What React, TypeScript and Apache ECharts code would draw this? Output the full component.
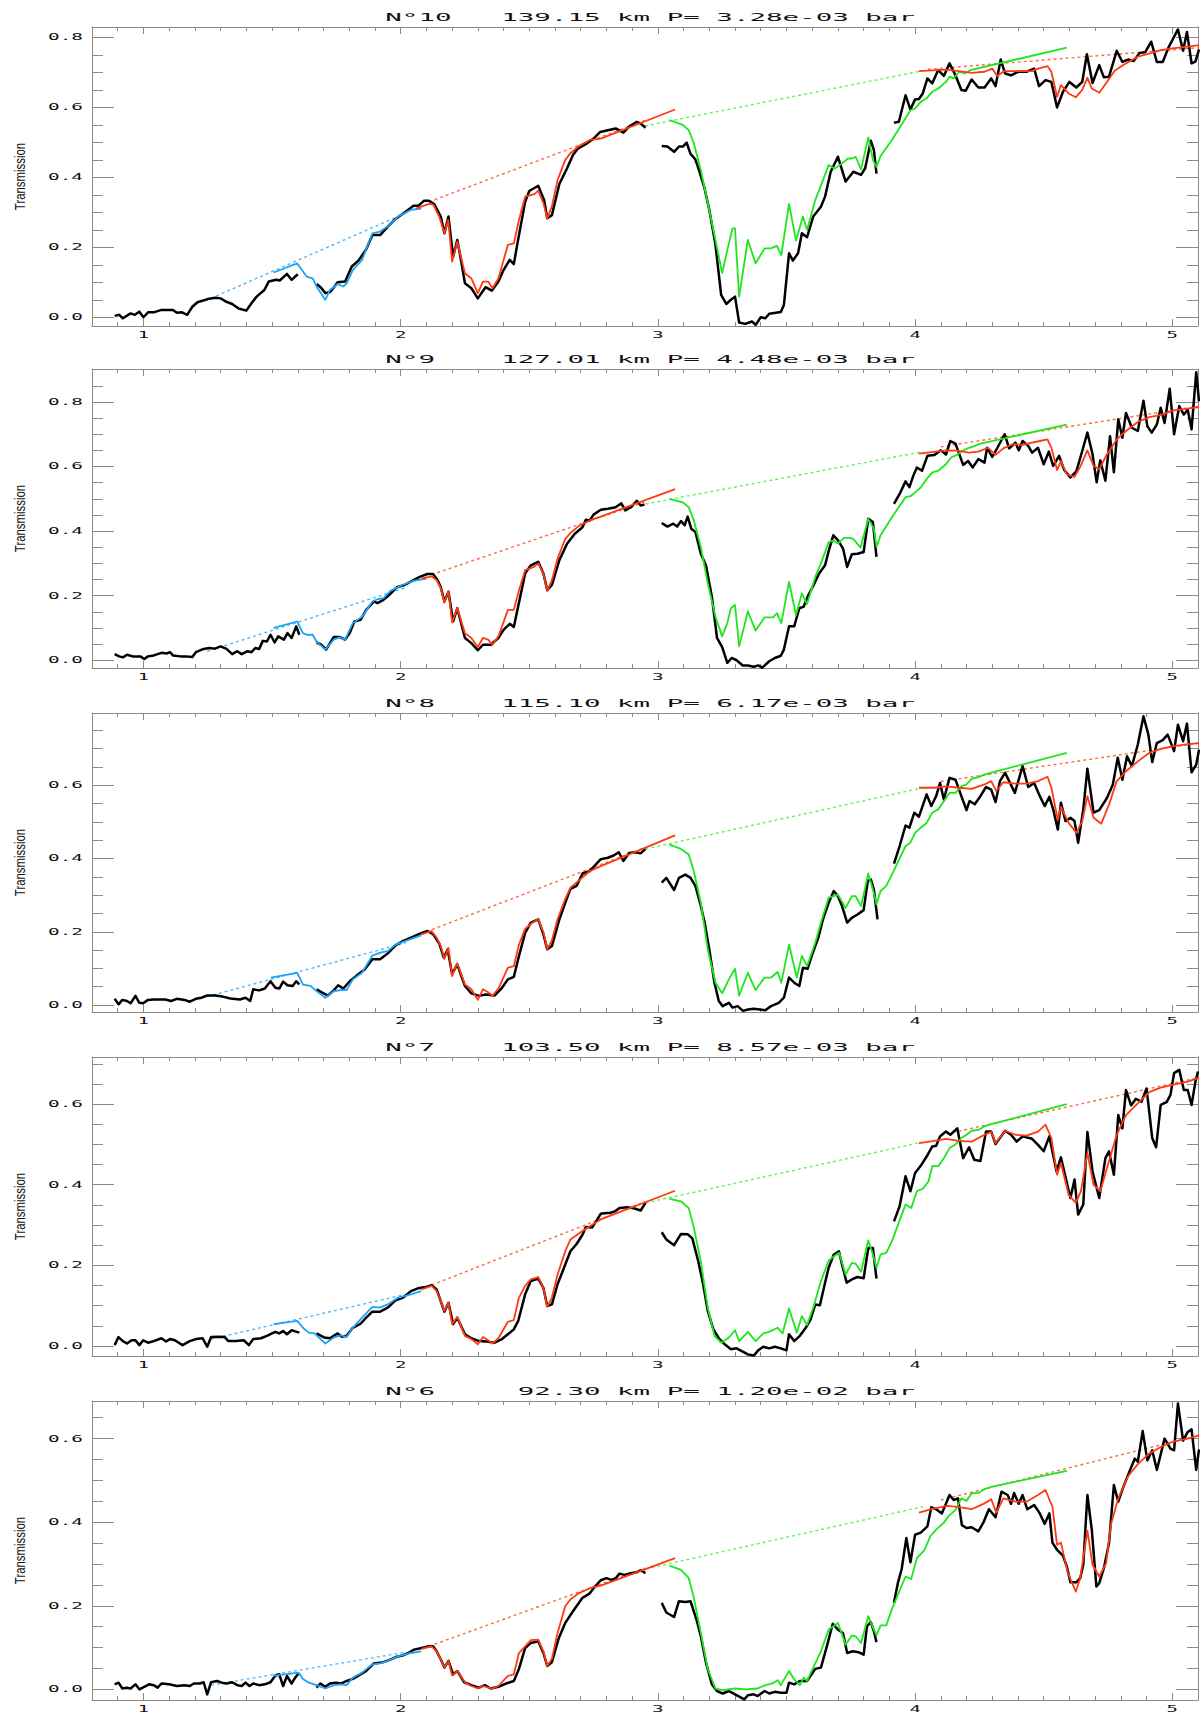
import React, { useEffect, useRef } from "react";
import * as echarts from "echarts";

type Pt = [number, number];

// ---------------- Panel N°10 ----------------
const p10BlackA: Pt[] = [[0.888,0.004],[0.906,0.007],[0.92,-0.003],[0.95,0.011],[0.966,0.007],[0.984,0.016],[1.0,0.0],[1.018,0.014],[1.04,0.014],[1.07,0.021],[1.115,0.021],[1.13,0.013],[1.15,0.014],[1.17,0.007],[1.19,0.03],[1.21,0.043],[1.25,0.052],[1.28,0.056],[1.30,0.054],[1.32,0.045],[1.345,0.038],[1.37,0.025],[1.40,0.019],[1.42,0.04],[1.44,0.059],[1.47,0.078],[1.487,0.102],[1.516,0.107],[1.53,0.105],[1.558,0.124],[1.576,0.107],[1.60,0.123]];
const p10BlackB: Pt[] = [[1.673,0.095],[1.69,0.085],[1.707,0.069],[1.725,0.072],[1.74,0.085],[1.755,0.1],[1.784,0.102],[1.81,0.145],[1.836,0.162],[1.866,0.194],[1.89,0.235],[1.92,0.235],[1.95,0.259],[1.98,0.281],[2.01,0.297],[2.05,0.319],[2.07,0.319],[2.09,0.333],[2.11,0.333],[2.13,0.324],[2.156,0.288],[2.17,0.24],[2.186,0.288],[2.204,0.173],[2.22,0.221],[2.23,0.183],[2.25,0.097],[2.275,0.083],[2.30,0.054],[2.33,0.086],[2.354,0.076],[2.38,0.102],[2.40,0.135],[2.424,0.164],[2.44,0.152],[2.454,0.211],[2.484,0.33],[2.50,0.361],[2.535,0.376],[2.558,0.335],[2.57,0.283],[2.588,0.292],[2.617,0.381],[2.647,0.426],[2.67,0.464],[2.69,0.483],[2.72,0.495],[2.75,0.511],[2.776,0.53],[2.806,0.535],[2.836,0.54],[2.866,0.528],[2.888,0.545],[2.918,0.559],[2.933,0.554],[2.952,0.542]];
const p10BlackC: Pt[] = [[3.015,0.49],[3.037,0.488],[3.063,0.473],[3.082,0.488],[3.097,0.488],[3.112,0.499],[3.127,0.467],[3.146,0.451],[3.16,0.421],[3.18,0.373],[3.20,0.307],[3.224,0.207],[3.246,0.064],[3.266,0.038],[3.284,0.05],[3.30,0.059],[3.316,-0.015],[3.34,-0.019],[3.366,-0.012],[3.38,-0.022],[3.40,0.0],[3.418,-0.003],[3.433,0.01],[3.478,0.015],[3.49,0.035],[3.51,0.183],[3.525,0.162],[3.545,0.183],[3.56,0.24],[3.58,0.229],[3.604,0.288],[3.634,0.316],[3.65,0.345],[3.672,0.416],[3.70,0.459],[3.73,0.388],[3.76,0.416],[3.79,0.407],[3.806,0.426],[3.828,0.505],[3.84,0.478],[3.85,0.411]];
const p10BlackD: Pt[] = [[3.918,0.556],[3.937,0.559],[3.963,0.635],[3.982,0.594],[4.0,0.623],[4.015,0.624],[4.03,0.64],[4.048,0.683],[4.067,0.669],[4.09,0.707],[4.112,0.69],[4.134,0.726],[4.157,0.692],[4.18,0.65],[4.197,0.648],[4.22,0.68],[4.246,0.657],[4.27,0.657],[4.296,0.683],[4.313,0.661],[4.333,0.737],[4.35,0.697],[4.373,0.692],[4.40,0.702],[4.433,0.702],[4.463,0.711],[4.482,0.661],[4.507,0.678],[4.53,0.673],[4.552,0.6],[4.575,0.645],[4.6,0.673],[4.627,0.657],[4.65,0.673],[4.668,0.752],[4.69,0.67],[4.716,0.721],[4.734,0.686],[4.754,0.688],[4.784,0.762],[4.806,0.73],[4.828,0.737],[4.85,0.733],[4.873,0.756],[4.895,0.758],[4.918,0.788],[4.94,0.73],[4.963,0.73],[4.985,0.771],[5.022,0.823],[5.042,0.762],[5.057,0.816],[5.075,0.726],[5.09,0.731],[5.104,0.766]];
const p10Blue: Pt[] = [[1.506,0.128],[1.598,0.154],[1.635,0.116],[1.658,0.111],[1.673,0.088],[1.707,0.05],[1.725,0.078],[1.755,0.095],[1.777,0.088],[1.79,0.097],[1.814,0.135],[1.85,0.164],[1.89,0.24],[1.92,0.245],[1.95,0.26],[1.99,0.288],[2.04,0.307],[2.08,0.311]];
const p10BlueCont: Pt[] = [[1.24,0.047],[2.02,0.298]];
const p10Red1: Pt[] = [[2.06,0.311],[2.11,0.324],[2.127,0.322],[2.15,0.288],[2.17,0.24],[2.185,0.278],[2.2,0.159],[2.22,0.216],[2.25,0.126],[2.275,0.111],[2.30,0.069],[2.32,0.102],[2.34,0.102],[2.357,0.083],[2.38,0.111],[2.417,0.207],[2.44,0.211],[2.46,0.278],[2.484,0.345],[2.52,0.352],[2.535,0.362],[2.555,0.326],[2.57,0.283],[2.588,0.317],[2.61,0.392],[2.64,0.45],[2.66,0.469],[2.69,0.488],[2.735,0.507],[2.778,0.511],[3.067,0.594]];
const p10Red1Cont: Pt[] = [[2.11,0.33],[2.95,0.563]];
const p10Green: Pt[] = [[3.045,0.564],[3.097,0.55],[3.12,0.535],[3.14,0.497],[3.167,0.421],[3.194,0.326],[3.224,0.221],[3.25,0.126],[3.27,0.192],[3.29,0.254],[3.30,0.254],[3.316,0.059],[3.35,0.221],[3.38,0.154],[3.415,0.197],[3.44,0.197],[3.463,0.204],[3.48,0.178],[3.51,0.324],[3.537,0.219],[3.564,0.288],[3.58,0.25],[3.612,0.335],[3.642,0.392],[3.664,0.435],[3.687,0.425],[3.716,0.44],[3.739,0.454],[3.754,0.454],[3.769,0.459],[3.79,0.423],[3.818,0.514],[3.836,0.45],[3.85,0.43],[3.866,0.461],[3.91,0.507],[3.963,0.569],[3.982,0.592],[4.0,0.597],[4.022,0.616],[4.045,0.626],[4.067,0.645],[4.09,0.654],[4.12,0.673],[4.134,0.688],[4.15,0.683],[4.172,0.702],[4.194,0.697],[4.216,0.707],[4.24,0.711],[4.59,0.771]];
const p10GreenCont: Pt[] = [[2.95,0.547],[4.03,0.705]];
const p10Red2: Pt[] = [[4.015,0.704],[4.12,0.708],[4.17,0.704],[4.22,0.699],[4.27,0.702],[4.30,0.711],[4.32,0.69],[4.346,0.704],[4.39,0.704],[4.455,0.704],[4.478,0.711],[4.515,0.718],[4.53,0.702],[4.552,0.63],[4.567,0.664],[4.597,0.64],[4.625,0.629],[4.65,0.65],[4.67,0.685],[4.687,0.654],[4.716,0.642],[4.746,0.673],[4.776,0.705],[4.82,0.726],[4.866,0.745],[4.91,0.754],[4.955,0.764],[5.0,0.769],[5.06,0.774],[5.104,0.778]];
const p10Red2Cont: Pt[] = [[4.05,0.709],[5.104,0.771]];

// ---------------- Panel N°9 ----------------
const p9BlackA: Pt[] = [[0.888,0.019],[0.906,0.012],[0.92,0.009],[0.936,0.017],[0.958,0.012],[0.988,0.012],[1.003,0.004],[1.018,0.012],[1.04,0.015],[1.07,0.023],[1.092,0.021],[1.103,0.025],[1.115,0.015],[1.144,0.012],[1.167,0.012],[1.19,0.01],[1.204,0.025],[1.234,0.035],[1.256,0.038],[1.278,0.036],[1.30,0.043],[1.323,0.035],[1.345,0.019],[1.365,0.028],[1.382,0.019],[1.405,0.028],[1.42,0.025],[1.435,0.038],[1.45,0.035],[1.464,0.06],[1.48,0.058],[1.494,0.079],[1.51,0.055],[1.524,0.074],[1.546,0.064],[1.56,0.084],[1.576,0.069],[1.594,0.105],[1.606,0.079]];
const p9BlackB: Pt[] = [[1.673,0.055],[1.692,0.048],[1.71,0.033],[1.74,0.072],[1.762,0.072],[1.784,0.064],[1.802,0.084],[1.82,0.12],[1.844,0.125],[1.866,0.156],[1.896,0.182],[1.91,0.177],[1.933,0.187],[1.955,0.202],[1.985,0.226],[2.015,0.233],[2.045,0.246],[2.074,0.258],[2.104,0.267],[2.126,0.267],[2.144,0.248],[2.156,0.226],[2.17,0.182],[2.186,0.212],[2.204,0.12],[2.22,0.161],[2.25,0.069],[2.275,0.053],[2.30,0.031],[2.32,0.048],[2.35,0.048],[2.38,0.069],[2.40,0.094],[2.424,0.113],[2.44,0.103],[2.454,0.156],[2.484,0.269],[2.506,0.294],[2.535,0.305],[2.555,0.269],[2.57,0.217],[2.588,0.233],[2.617,0.31],[2.647,0.361],[2.677,0.392],[2.707,0.412],[2.72,0.435],[2.735,0.433],[2.75,0.451],[2.778,0.466],[2.806,0.469],[2.836,0.474],[2.858,0.486],[2.873,0.464],[2.896,0.474],[2.918,0.494],[2.933,0.479],[2.948,0.482]];
const p9BlackC: Pt[] = [[3.015,0.425],[3.037,0.414],[3.06,0.423],[3.075,0.414],[3.09,0.431],[3.104,0.418],[3.116,0.445],[3.13,0.407],[3.146,0.397],[3.167,0.33],[3.187,0.294],[3.21,0.197],[3.23,0.069],[3.25,0.041],[3.27,-0.008],[3.287,0.007],[3.306,0.0],[3.33,-0.016],[3.35,-0.016],[3.373,-0.02],[3.39,-0.016],[3.406,-0.023],[3.433,-0.003],[3.455,0.007],[3.478,0.014],[3.49,0.033],[3.51,0.105],[3.53,0.105],[3.55,0.161],[3.567,0.166],[3.585,0.202],[3.604,0.23],[3.627,0.269],[3.65,0.294],[3.664,0.338],[3.682,0.387],[3.70,0.372],[3.72,0.346],[3.736,0.289],[3.754,0.328],[3.776,0.33],[3.80,0.335],[3.818,0.438],[3.836,0.428],[3.85,0.32]];
const p9BlackD: Pt[] = [[3.918,0.484],[3.94,0.515],[3.963,0.554],[3.978,0.536],[3.993,0.571],[4.007,0.597],[4.027,0.587],[4.048,0.633],[4.075,0.636],[4.10,0.65],[4.12,0.637],[4.137,0.679],[4.157,0.671],[4.187,0.605],[4.206,0.617],[4.224,0.597],[4.246,0.623],[4.27,0.612],[4.28,0.658],[4.30,0.63],[4.32,0.658],[4.348,0.70],[4.366,0.656],[4.39,0.674],[4.403,0.65],[4.418,0.679],[4.44,0.664],[4.455,0.643],[4.478,0.658],[4.50,0.607],[4.52,0.646],[4.537,0.602],[4.56,0.633],[4.58,0.589],[4.604,0.566],[4.627,0.585],[4.65,0.648],[4.67,0.705],[4.69,0.638],[4.706,0.551],[4.72,0.619],[4.74,0.556],[4.758,0.694],[4.773,0.582],[4.79,0.746],[4.806,0.689],[4.82,0.766],[4.843,0.72],[4.866,0.71],[4.888,0.804],[4.903,0.725],[4.92,0.705],[4.94,0.73],[4.955,0.782],[4.97,0.735],[4.99,0.841],[5.007,0.70],[5.027,0.787],[5.045,0.761],[5.06,0.776],[5.075,0.715],[5.093,0.892],[5.104,0.802]];
const p9Blue: Pt[] = [[1.506,0.1],[1.598,0.12],[1.62,0.084],[1.635,0.079],[1.658,0.079],[1.673,0.058],[1.707,0.033],[1.74,0.064],[1.762,0.071],[1.784,0.064],[1.814,0.115],[1.85,0.135],[1.89,0.182],[1.91,0.189],[1.933,0.192],[1.96,0.215],[2.007,0.233],[2.05,0.246],[2.1,0.253]];
const p9BlueCont: Pt[] = [[1.248,0.028],[2.02,0.225]];
const p9Red1: Pt[] = [[2.08,0.253],[2.12,0.26],[2.14,0.248],[2.156,0.223],[2.17,0.178],[2.186,0.215],[2.2,0.117],[2.22,0.161],[2.25,0.084],[2.275,0.069],[2.30,0.041],[2.32,0.069],[2.34,0.064],[2.357,0.048],[2.38,0.074],[2.417,0.156],[2.44,0.156],[2.46,0.217],[2.484,0.279],[2.52,0.29],[2.535,0.30],[2.555,0.269],[2.57,0.215],[2.588,0.248],[2.61,0.315],[2.64,0.376],[2.66,0.394],[2.69,0.414],[2.735,0.433],[2.778,0.445],[3.067,0.53]];
const p9Red1Cont: Pt[] = [[2.12,0.265],[2.95,0.49]];
const p9Green: Pt[] = [[3.045,0.50],[3.097,0.489],[3.12,0.474],[3.14,0.433],[3.167,0.351],[3.194,0.238],[3.224,0.135],[3.25,0.074],[3.27,0.115],[3.284,0.161],[3.30,0.171],[3.316,0.043],[3.35,0.151],[3.38,0.092],[3.415,0.133],[3.448,0.133],[3.463,0.146],[3.48,0.115],[3.51,0.243],[3.537,0.14],[3.56,0.207],[3.58,0.174],[3.612,0.258],[3.634,0.30],[3.664,0.366],[3.684,0.371],[3.70,0.361],[3.724,0.379],[3.746,0.379],[3.76,0.376],[3.788,0.349],[3.818,0.438],[3.84,0.407],[3.85,0.351],[3.866,0.387],[3.91,0.443],[3.963,0.505],[3.982,0.508],[4.0,0.52],[4.022,0.535],[4.045,0.561],[4.067,0.582],[4.09,0.587],[4.12,0.607],[4.14,0.628],[4.164,0.636],[4.187,0.65],[4.21,0.658],[4.23,0.663],[4.254,0.671],[4.59,0.73]];
const p9GreenCont: Pt[] = [[2.952,0.484],[4.03,0.646]];
const p9Red2: Pt[] = [[4.015,0.64],[4.12,0.65],[4.164,0.649],[4.21,0.643],[4.246,0.646],[4.284,0.658],[4.313,0.636],[4.343,0.656],[4.38,0.669],[4.418,0.667],[4.455,0.674],[4.485,0.679],[4.515,0.684],[4.53,0.658],[4.552,0.589],[4.567,0.617],[4.59,0.576],[4.62,0.568],[4.642,0.599],[4.67,0.65],[4.694,0.602],[4.716,0.592],[4.746,0.638],[4.784,0.684],[4.82,0.71],[4.866,0.738],[4.91,0.753],[4.955,0.759],[5.0,0.773],[5.06,0.779],[5.104,0.784]];
const p9Red2Cont: Pt[] = [[4.1,0.661],[5.104,0.787]];

// ---------------- Panel N°8 ----------------
const p8BlackA: Pt[] = [[0.888,0.017],[0.903,0.002],[0.918,0.014],[0.936,0.011],[0.95,0.005],[0.969,0.025],[0.984,0.006],[0.999,0.005],[1.018,0.014],[1.04,0.015],[1.085,0.015],[1.107,0.011],[1.13,0.017],[1.16,0.014],[1.18,0.009],[1.204,0.017],[1.226,0.02],[1.248,0.026],[1.278,0.026],[1.308,0.023],[1.338,0.018],[1.375,0.015],[1.397,0.02],[1.415,0.011],[1.427,0.043],[1.45,0.04],[1.472,0.045],[1.494,0.065],[1.513,0.047],[1.528,0.045],[1.543,0.064],[1.56,0.054],[1.58,0.052],[1.594,0.065],[1.606,0.056]];
const p8BlackB: Pt[] = [[1.673,0.043],[1.695,0.034],[1.717,0.026],[1.74,0.04],[1.757,0.054],[1.777,0.045],[1.802,0.065],[1.83,0.081],[1.86,0.097],[1.89,0.125],[1.92,0.125],[1.95,0.141],[1.98,0.163],[2.01,0.175],[2.04,0.184],[2.075,0.195],[2.104,0.202],[2.127,0.193],[2.15,0.168],[2.168,0.129],[2.183,0.152],[2.20,0.084],[2.22,0.111],[2.25,0.052],[2.275,0.032],[2.305,0.025],[2.33,0.029],[2.365,0.026],[2.394,0.047],[2.417,0.07],[2.44,0.077],[2.46,0.134],[2.484,0.197],[2.506,0.225],[2.535,0.234],[2.555,0.193],[2.57,0.152],[2.588,0.161],[2.617,0.234],[2.64,0.279],[2.66,0.317],[2.684,0.325],[2.707,0.359],[2.734,0.365],[2.778,0.398],[2.806,0.402],[2.828,0.408],[2.848,0.417],[2.866,0.393],[2.888,0.415],[2.91,0.417],[2.933,0.414],[2.952,0.426]];
const p8BlackC: Pt[] = [[3.015,0.334],[3.033,0.347],[3.063,0.314],[3.082,0.347],[3.107,0.356],[3.127,0.347],[3.146,0.325],[3.164,0.279],[3.182,0.225],[3.20,0.152],[3.22,0.061],[3.237,0.011],[3.252,-0.003],[3.276,0.006],[3.29,-0.007],[3.31,-0.003],[3.331,-0.016],[3.35,-0.012],[3.373,-0.01],[3.396,-0.012],[3.418,-0.014],[3.44,-0.003],[3.47,0.006],[3.49,0.02],[3.51,0.075],[3.53,0.061],[3.55,0.052],[3.564,0.102],[3.582,0.099],[3.60,0.138],[3.624,0.184],[3.642,0.234],[3.664,0.279],[3.684,0.311],[3.70,0.297],[3.716,0.27],[3.736,0.225],[3.754,0.238],[3.776,0.247],[3.80,0.259],[3.816,0.338],[3.828,0.343],[3.84,0.315],[3.854,0.234]];
const p8BlackD: Pt[] = [[3.918,0.386],[3.94,0.434],[3.963,0.49],[3.978,0.484],[3.997,0.525],[4.015,0.514],[4.045,0.575],[4.063,0.543],[4.082,0.57],[4.097,0.606],[4.112,0.561],[4.134,0.62],[4.157,0.615],[4.18,0.57],[4.20,0.532],[4.212,0.557],[4.232,0.548],[4.254,0.57],[4.276,0.595],[4.296,0.588],[4.313,0.554],[4.33,0.611],[4.35,0.634],[4.37,0.605],[4.388,0.579],[4.418,0.652],[4.44,0.595],[4.463,0.606],[4.485,0.57],[4.504,0.543],[4.522,0.568],[4.537,0.534],[4.555,0.479],[4.567,0.552],[4.585,0.502],[4.604,0.511],[4.62,0.502],[4.634,0.443],[4.654,0.534],[4.67,0.645],[4.694,0.525],[4.716,0.532],[4.746,0.565],[4.769,0.602],[4.788,0.675],[4.806,0.615],[4.824,0.679],[4.843,0.652],[4.866,0.711],[4.888,0.788],[4.907,0.738],[4.922,0.663],[4.94,0.715],[4.963,0.723],[4.982,0.738],[5.007,0.693],[5.022,0.765],[5.042,0.72],[5.057,0.768],[5.075,0.635],[5.093,0.656],[5.104,0.697]];
const p8Blue: Pt[] = [[1.495,0.075],[1.598,0.088],[1.62,0.056],[1.65,0.052],[1.673,0.038],[1.707,0.02],[1.74,0.038],[1.77,0.041],[1.79,0.041],[1.814,0.07],[1.85,0.088],[1.89,0.135],[1.92,0.143],[1.95,0.147],[1.98,0.165],[2.02,0.175],[2.08,0.19]];
const p8BlueCont: Pt[] = [[1.248,0.023],[2.02,0.17]];
const p8Red1: Pt[] = [[2.08,0.193],[2.12,0.202],[2.14,0.184],[2.156,0.161],[2.17,0.126],[2.186,0.156],[2.2,0.079],[2.22,0.114],[2.25,0.056],[2.275,0.043],[2.30,0.014],[2.32,0.043],[2.34,0.035],[2.357,0.025],[2.38,0.045],[2.417,0.102],[2.44,0.106],[2.46,0.165],[2.484,0.208],[2.514,0.226],[2.535,0.234],[2.555,0.199],[2.57,0.152],[2.588,0.177],[2.61,0.234],[2.64,0.29],[2.66,0.32],[2.69,0.338],[2.735,0.365],[2.778,0.379],[3.067,0.463]];
const p8Red1Cont: Pt[] = [[2.10,0.20],[2.95,0.43]];
const p8Green: Pt[] = [[3.045,0.438],[3.09,0.426],[3.12,0.411],[3.14,0.365],[3.167,0.279],[3.194,0.152],[3.224,0.061],[3.25,0.032],[3.276,0.07],[3.30,0.099],[3.316,0.026],[3.35,0.088],[3.38,0.041],[3.415,0.075],[3.44,0.075],[3.466,0.09],[3.48,0.061],[3.51,0.165],[3.54,0.075],[3.56,0.134],[3.58,0.106],[3.612,0.17],[3.634,0.225],[3.664,0.293],[3.684,0.297],[3.70,0.302],[3.73,0.265],[3.754,0.297],[3.769,0.297],[3.79,0.27],[3.818,0.359],[3.836,0.315],[3.85,0.275],[3.866,0.311],[3.888,0.325],[3.91,0.356],[3.963,0.434],[3.982,0.443],[4.0,0.47],[4.022,0.484],[4.045,0.497],[4.067,0.525],[4.09,0.534],[4.112,0.556],[4.134,0.579],[4.157,0.579],[4.18,0.597],[4.20,0.602],[4.22,0.617],[4.246,0.622],[4.27,0.629],[4.30,0.635],[4.59,0.688]];
const p8GreenCont: Pt[] = [[2.952,0.426],[4.03,0.593]];
const p8Red2: Pt[] = [[4.015,0.593],[4.075,0.593],[4.12,0.597],[4.17,0.593],[4.22,0.59],[4.27,0.602],[4.296,0.611],[4.316,0.584],[4.343,0.608],[4.39,0.604],[4.433,0.604],[4.478,0.611],[4.515,0.623],[4.53,0.593],[4.555,0.505],[4.567,0.541],[4.597,0.497],[4.627,0.47],[4.65,0.502],[4.67,0.57],[4.694,0.511],[4.724,0.495],[4.754,0.547],[4.784,0.611],[4.82,0.638],[4.866,0.665],[4.91,0.688],[4.955,0.699],[5.0,0.706],[5.06,0.712],[5.104,0.715]];
const p8Red2Cont: Pt[] = [[4.1,0.61],[5.104,0.715]];

// ---------------- Panel N°7 ----------------
const p7BlackA: Pt[] = [[0.888,0.002],[0.903,0.022],[0.92,0.012],[0.936,0.006],[0.954,0.014],[0.969,0.014],[0.984,0.002],[0.999,0.014],[1.018,0.008],[1.04,0.012],[1.07,0.019],[1.088,0.011],[1.103,0.017],[1.122,0.014],[1.152,0.002],[1.18,0.012],[1.204,0.017],[1.23,0.019],[1.248,-0.002],[1.263,0.022],[1.293,0.023],[1.316,0.022],[1.33,0.012],[1.36,0.012],[1.39,0.014],[1.41,0.002],[1.427,0.017],[1.457,0.019],[1.48,0.025],[1.50,0.031],[1.513,0.035],[1.528,0.031],[1.543,0.037],[1.558,0.029],[1.576,0.039],[1.59,0.036],[1.606,0.033]];
const p7BlackB: Pt[] = [[1.673,0.031],[1.702,0.021],[1.725,0.019],[1.755,0.031],[1.77,0.023],[1.79,0.025],[1.814,0.045],[1.844,0.055],[1.866,0.07],[1.89,0.085],[1.92,0.085],[1.95,0.095],[1.98,0.113],[2.01,0.12],[2.04,0.136],[2.067,0.143],[2.097,0.146],[2.12,0.151],[2.14,0.14],[2.16,0.103],[2.17,0.085],[2.186,0.107],[2.204,0.054],[2.22,0.07],[2.25,0.029],[2.275,0.019],[2.305,0.012],[2.335,0.011],[2.365,0.008],[2.394,0.017],[2.417,0.029],[2.44,0.041],[2.457,0.062],[2.484,0.128],[2.506,0.161],[2.535,0.167],[2.555,0.144],[2.57,0.099],[2.588,0.103],[2.61,0.153],[2.64,0.202],[2.66,0.235],[2.684,0.253],[2.707,0.276],[2.72,0.295],[2.744,0.294],[2.76,0.309],[2.778,0.328],[2.80,0.33],[2.813,0.33],[2.833,0.334],[2.851,0.342],[2.881,0.344],[2.91,0.341],[2.933,0.336],[2.952,0.355]];
const p7BlackC: Pt[] = [[3.015,0.282],[3.033,0.264],[3.063,0.25],[3.09,0.278],[3.116,0.277],[3.134,0.267],[3.157,0.21],[3.176,0.153],[3.194,0.087],[3.216,0.041],[3.237,0.019],[3.26,0.004],[3.284,-0.008],[3.306,-0.006],[3.33,-0.014],[3.35,-0.021],[3.373,-0.024],[3.39,-0.011],[3.41,-0.002],[3.433,-0.006],[3.455,-0.002],[3.478,-0.006],[3.50,-0.011],[3.51,0.029],[3.53,0.012],[3.552,0.025],[3.575,0.045],[3.594,0.066],[3.612,0.103],[3.63,0.101],[3.65,0.157],[3.664,0.194],[3.684,0.227],[3.704,0.235],[3.716,0.202],[3.734,0.157],[3.754,0.165],[3.776,0.171],[3.80,0.168],[3.818,0.243],[3.836,0.243],[3.85,0.167]];
const p7BlackD: Pt[] = [[3.918,0.309],[3.94,0.347],[3.963,0.421],[3.982,0.384],[4.0,0.429],[4.022,0.447],[4.045,0.47],[4.067,0.495],[4.082,0.497],[4.097,0.52],[4.12,0.532],[4.137,0.524],[4.164,0.54],[4.187,0.466],[4.21,0.493],[4.23,0.462],[4.254,0.459],[4.276,0.532],[4.296,0.532],[4.313,0.501],[4.35,0.534],[4.373,0.524],[4.395,0.507],[4.418,0.52],[4.455,0.514],[4.478,0.499],[4.50,0.483],[4.522,0.52],[4.55,0.433],[4.567,0.468],[4.604,0.367],[4.62,0.413],[4.634,0.326],[4.654,0.351],[4.67,0.531],[4.69,0.433],[4.716,0.367],[4.74,0.466],[4.754,0.483],[4.773,0.425],[4.79,0.573],[4.806,0.54],[4.82,0.635],[4.84,0.597],[4.858,0.613],[4.88,0.606],[4.90,0.639],[4.922,0.516],[4.937,0.493],[4.955,0.598],[4.978,0.605],[4.993,0.623],[5.007,0.677],[5.027,0.685],[5.045,0.635],[5.06,0.635],[5.075,0.598],[5.09,0.656],[5.10,0.681]];
const p7Blue: Pt[] = [[1.506,0.054],[1.598,0.062],[1.62,0.045],[1.643,0.033],[1.665,0.031],[1.707,0.006],[1.74,0.021],[1.77,0.026],[1.79,0.022],[1.814,0.045],[1.85,0.07],[1.89,0.097],[1.92,0.095],[1.95,0.103],[1.99,0.12],[2.04,0.128],[2.08,0.136]];
const p7BlueCont: Pt[] = [[1.263,0.017],[2.02,0.128]];
const p7Red1: Pt[] = [[2.08,0.14],[2.12,0.149],[2.14,0.136],[2.156,0.111],[2.17,0.087],[2.186,0.107],[2.2,0.054],[2.22,0.072],[2.25,0.025],[2.275,0.017],[2.30,0.004],[2.32,0.022],[2.34,0.014],[2.357,0.006],[2.38,0.019],[2.417,0.06],[2.44,0.064],[2.46,0.12],[2.484,0.149],[2.506,0.165],[2.535,0.171],[2.555,0.144],[2.57,0.097],[2.588,0.12],[2.61,0.177],[2.64,0.235],[2.66,0.264],[2.69,0.278],[2.735,0.297],[2.778,0.314],[3.067,0.385]];
const p7Red1Cont: Pt[] = [[2.12,0.151],[2.95,0.358]];
const p7Green: Pt[] = [[3.045,0.365],[3.09,0.359],[3.12,0.342],[3.14,0.293],[3.167,0.21],[3.194,0.095],[3.22,0.025],[3.246,0.008],[3.276,0.021],[3.30,0.039],[3.316,0.012],[3.35,0.035],[3.38,0.012],[3.41,0.031],[3.433,0.035],[3.466,0.045],[3.485,0.031],[3.51,0.093],[3.54,0.033],[3.56,0.074],[3.58,0.052],[3.604,0.095],[3.634,0.161],[3.664,0.212],[3.687,0.223],[3.705,0.231],[3.73,0.177],[3.754,0.206],[3.769,0.204],[3.79,0.184],[3.818,0.262],[3.836,0.227],[3.85,0.194],[3.866,0.227],[3.888,0.231],[3.91,0.26],[3.963,0.351],[3.985,0.342],[4.007,0.384],[4.03,0.39],[4.052,0.408],[4.067,0.446],[4.09,0.446],[4.112,0.466],[4.134,0.491],[4.157,0.50],[4.18,0.516],[4.20,0.524],[4.22,0.534],[4.246,0.536],[4.27,0.545],[4.29,0.549],[4.59,0.60]];
const p7GreenCont: Pt[] = [[2.952,0.355],[4.03,0.506]];
const p7Red2: Pt[] = [[4.015,0.503],[4.075,0.509],[4.12,0.514],[4.17,0.509],[4.22,0.507],[4.27,0.524],[4.296,0.531],[4.313,0.503],[4.35,0.534],[4.39,0.524],[4.433,0.522],[4.478,0.532],[4.507,0.549],[4.53,0.516],[4.552,0.425],[4.567,0.454],[4.597,0.375],[4.625,0.355],[4.645,0.384],[4.67,0.479],[4.694,0.40],[4.72,0.384],[4.746,0.441],[4.784,0.524],[4.82,0.573],[4.866,0.602],[4.91,0.63],[4.955,0.641],[5.0,0.648],[5.06,0.656],[5.104,0.666]];
const p7Red2Cont: Pt[] = [[4.1,0.523],[5.104,0.666]];

// ---------------- Panel N°6 ----------------
const p6BlackA: Pt[] = [[0.888,0.012],[0.903,0.016],[0.918,0.002],[0.936,0.004],[0.95,0.002],[0.969,0.012],[0.984,0.0],[1.003,0.006],[1.022,0.012],[1.04,0.01],[1.055,0.004],[1.07,0.014],[1.10,0.012],[1.13,0.008],[1.16,0.01],[1.18,0.008],[1.196,0.014],[1.22,0.014],[1.234,0.017],[1.248,-0.012],[1.263,0.017],[1.286,0.02],[1.305,0.016],[1.323,0.014],[1.345,0.017],[1.365,0.01],[1.382,0.008],[1.397,0.016],[1.412,0.008],[1.427,0.014],[1.45,0.01],[1.472,0.012],[1.494,0.017],[1.513,0.033],[1.528,0.036],[1.543,0.008],[1.558,0.032],[1.576,0.014],[1.59,0.028],[1.603,0.038]];
const p6BlackB: Pt[] = [[1.673,0.004],[1.688,0.014],[1.707,0.006],[1.725,0.014],[1.747,0.016],[1.77,0.014],[1.79,0.02],[1.814,0.025],[1.836,0.033],[1.866,0.044],[1.896,0.062],[1.926,0.064],[1.955,0.07],[1.985,0.078],[2.007,0.081],[2.03,0.087],[2.052,0.095],[2.082,0.099],[2.11,0.103],[2.126,0.103],[2.14,0.091],[2.156,0.072],[2.17,0.052],[2.186,0.068],[2.204,0.036],[2.22,0.044],[2.247,0.017],[2.275,0.01],[2.305,0.004],[2.327,0.01],[2.35,0.002],[2.38,0.006],[2.41,0.014],[2.44,0.02],[2.46,0.049],[2.484,0.099],[2.506,0.111],[2.535,0.115],[2.555,0.087],[2.57,0.056],[2.588,0.065],[2.615,0.123],[2.64,0.159],[2.67,0.187],[2.707,0.219],[2.734,0.229],[2.75,0.242],[2.778,0.261],[2.80,0.266],[2.82,0.262],[2.836,0.266],[2.851,0.277],[2.87,0.274],[2.888,0.277],[2.918,0.28],[2.933,0.285],[2.952,0.278]];
const p6BlackC: Pt[] = [[3.015,0.207],[3.033,0.184],[3.063,0.173],[3.082,0.211],[3.107,0.209],[3.127,0.211],[3.15,0.167],[3.167,0.127],[3.187,0.064],[3.21,0.012],[3.23,-0.004],[3.252,-0.01],[3.276,-0.004],[3.30,-0.012],[3.336,-0.024],[3.35,-0.014],[3.373,-0.012],[3.388,-0.016],[3.415,-0.004],[3.433,-0.01],[3.455,-0.006],[3.478,-0.008],[3.50,-0.008],[3.51,0.016],[3.53,0.012],[3.552,0.02],[3.58,0.02],[3.612,0.049],[3.634,0.052],[3.657,0.103],[3.68,0.157],[3.70,0.143],[3.72,0.134],[3.736,0.087],[3.758,0.091],[3.78,0.089],[3.80,0.083],[3.813,0.151],[3.828,0.161],[3.84,0.139],[3.85,0.113]];
const p6BlackD: Pt[] = [[3.918,0.207],[3.933,0.254],[3.948,0.288],[3.966,0.362],[3.982,0.304],[4.0,0.37],[4.022,0.375],[4.048,0.39],[4.063,0.436],[4.082,0.431],[4.104,0.421],[4.12,0.444],[4.134,0.465],[4.15,0.453],[4.167,0.457],[4.182,0.393],[4.20,0.386],[4.22,0.388],[4.246,0.378],[4.267,0.401],[4.287,0.431],[4.313,0.412],[4.336,0.473],[4.36,0.465],[4.373,0.444],[4.385,0.47],[4.403,0.444],[4.418,0.465],[4.436,0.431],[4.463,0.441],[4.485,0.421],[4.504,0.396],[4.522,0.421],[4.534,0.351],[4.552,0.334],[4.575,0.32],[4.59,0.294],[4.604,0.256],[4.627,0.256],[4.642,0.266],[4.654,0.298],[4.67,0.465],[4.687,0.382],[4.705,0.246],[4.716,0.254],[4.734,0.29],[4.754,0.35],[4.773,0.489],[4.79,0.449],[4.81,0.485],[4.836,0.525],[4.854,0.552],[4.866,0.545],[4.885,0.618],[4.903,0.548],[4.922,0.572],[4.94,0.525],[4.97,0.60],[4.993,0.576],[5.007,0.572],[5.022,0.684],[5.042,0.595],[5.06,0.616],[5.075,0.622],[5.093,0.525],[5.104,0.574]];
const p6Blue: Pt[] = [[1.506,0.033],[1.603,0.04],[1.62,0.025],[1.643,0.016],[1.673,0.01],[1.707,0.002],[1.74,0.01],[1.77,0.012],[1.79,0.01],[1.814,0.028],[1.85,0.04],[1.89,0.06],[1.92,0.062],[1.95,0.068],[1.99,0.079],[2.04,0.087],[2.08,0.091]];
const p6BlueCont: Pt[] = [[1.263,0.01],[2.02,0.089]];
const p6Red1: Pt[] = [[2.08,0.097],[2.12,0.103],[2.14,0.091],[2.156,0.072],[2.17,0.052],[2.186,0.068],[2.2,0.033],[2.22,0.044],[2.25,0.017],[2.275,0.008],[2.30,0.002],[2.32,0.008],[2.357,0.002],[2.38,0.008],[2.417,0.032],[2.44,0.036],[2.46,0.087],[2.484,0.103],[2.506,0.118],[2.535,0.119],[2.555,0.091],[2.57,0.056],[2.588,0.073],[2.61,0.135],[2.64,0.199],[2.66,0.215],[2.69,0.229],[2.735,0.242],[2.778,0.248],[3.067,0.314]];
const p6Red1Cont: Pt[] = [[2.11,0.103],[2.95,0.29]];
const p6Green: Pt[] = [[3.045,0.296],[3.09,0.286],[3.12,0.266],[3.14,0.219],[3.167,0.135],[3.194,0.048],[3.224,0.002],[3.252,-0.002],[3.30,0.002],[3.343,0.0],[3.388,0.002],[3.418,0.01],[3.445,0.014],[3.466,0.022],[3.478,0.01],[3.51,0.044],[3.53,0.024],[3.552,0.01],[3.567,0.028],[3.58,0.02],[3.604,0.052],[3.634,0.091],[3.664,0.143],[3.687,0.153],[3.70,0.159],[3.73,0.107],[3.754,0.129],[3.769,0.127],[3.79,0.111],[3.818,0.175],[3.84,0.143],[3.85,0.129],[3.866,0.153],[3.888,0.153],[3.91,0.192],[3.963,0.27],[3.985,0.264],[4.007,0.314],[4.037,0.334],[4.06,0.367],[4.082,0.382],[4.112,0.399],[4.134,0.417],[4.157,0.429],[4.18,0.457],[4.20,0.451],[4.22,0.469],[4.246,0.47],[4.27,0.479],[4.30,0.485],[4.59,0.523]];
const p6GreenCont: Pt[] = [[2.952,0.288],[4.03,0.437]];
const p6Red2: Pt[] = [[4.015,0.423],[4.075,0.433],[4.127,0.439],[4.172,0.436],[4.22,0.431],[4.27,0.445],[4.296,0.455],[4.316,0.423],[4.343,0.457],[4.39,0.449],[4.433,0.449],[4.478,0.465],[4.507,0.477],[4.534,0.437],[4.552,0.346],[4.567,0.351],[4.594,0.278],[4.625,0.234],[4.642,0.266],[4.67,0.38],[4.69,0.298],[4.716,0.27],[4.743,0.302],[4.761,0.393],[4.79,0.457],[4.828,0.51],[4.866,0.539],[4.91,0.564],[4.955,0.58],[5.0,0.592],[5.06,0.60],[5.104,0.608]];
const p6Red2Cont: Pt[] = [[4.1,0.453],[5.104,0.608]];

// ---------------- Titles, ranges, tick labels ----------------
const NB = "\u00A0";
const panelTitles: string[] = [
  `N°10${NB}${NB}${NB}139.15 km P= 3.28e-03 bar`,
  `N°9${NB}${NB}${NB}${NB}127.01 km P= 4.48e-03 bar`,
  `N°8${NB}${NB}${NB}${NB}115.10 km P= 6.17e-03 bar`,
  `N°7${NB}${NB}${NB}${NB}103.50 km P= 8.57e-03 bar`,
  `N°6${NB}${NB}${NB}${NB}${NB}92.30 km P= 1.20e-02 bar`,
];
const yAxisName = "Transmission";
const xRange: [number, number] = [0.8, 5.1];
const yRanges: [number, number][] = [
  [-0.025, 0.83],
  [-0.024, 0.902],
  [-0.019, 0.797],
  [-0.025, 0.717],
  [-0.0255, 0.69],
];
const xTickLabels: number[] = [1, 2, 3, 4, 5];
const yTickLabels: number[][] = [
  [0, 0.2, 0.4, 0.6, 0.8],
  [0, 0.2, 0.4, 0.6, 0.8],
  [0, 0.2, 0.4, 0.6],
  [0, 0.2, 0.4, 0.6],
  [0, 0.2, 0.4, 0.6],
];

const panels = [
  { black: [p10BlackA, p10BlackB, p10BlackC, p10BlackD], blue: p10Blue, blueCont: p10BlueCont, red1: p10Red1, red1Cont: p10Red1Cont, green: p10Green, greenCont: p10GreenCont, red2: p10Red2, red2Cont: p10Red2Cont },
  { black: [p9BlackA, p9BlackB, p9BlackC, p9BlackD], blue: p9Blue, blueCont: p9BlueCont, red1: p9Red1, red1Cont: p9Red1Cont, green: p9Green, greenCont: p9GreenCont, red2: p9Red2, red2Cont: p9Red2Cont },
  { black: [p8BlackA, p8BlackB, p8BlackC, p8BlackD], blue: p8Blue, blueCont: p8BlueCont, red1: p8Red1, red1Cont: p8Red1Cont, green: p8Green, greenCont: p8GreenCont, red2: p8Red2, red2Cont: p8Red2Cont },
  { black: [p7BlackA, p7BlackB, p7BlackC, p7BlackD], blue: p7Blue, blueCont: p7BlueCont, red1: p7Red1, red1Cont: p7Red1Cont, green: p7Green, greenCont: p7GreenCont, red2: p7Red2, red2Cont: p7Red2Cont },
  { black: [p6BlackA, p6BlackB, p6BlackC, p6BlackD], blue: p6Blue, blueCont: p6BlueCont, red1: p6Red1, red1Cont: p6Red1Cont, green: p6Green, greenCont: p6GreenCont, red2: p6Red2, red2Cont: p6Red2Cont },
];

// ---------------- Styles / layout ----------------
const GRID_LEFT = 92;
const GRID_WIDTH = 1106;
const GRID_TOPS = [27, 369, 713, 1057, 1401];
const GRID_HEIGHT = 299;
const AXIS_GRAY = "#8a8a8a";
const C_BLACK = "#000000";
const C_RED = "#ff3a12";
const C_GREEN = "#1de61d";
const C_BLUE = "#1ea2f5";
const C_RED_DOT = "#ff6a4a";
const C_GREEN_DOT = "#5cf55c";
const C_BLUE_DOT = "#4fb8ff";
const MONO = '"DejaVu Sans Mono", "Liberation Mono", monospace';

function buildOption() {
  const grid: any[] = [];
  const xAxis: any[] = [];
  const yAxis: any[] = [];
  const series: any[] = [];
  const tickStyle = { color: AXIS_GRAY, width: 1 };

  panels.forEach((p, i) => {
    grid.push({ left: GRID_LEFT, width: GRID_WIDTH, top: GRID_TOPS[i], height: GRID_HEIGHT, containLabel: false });
    for (const pos of ["bottom", "top"]) {
      xAxis.push({
        type: "value", gridIndex: i, position: pos, min: xRange[0], max: xRange[1],
        splitNumber: 4, minInterval: 1, maxInterval: 1,
        axisLine: { show: true, onZero: false, lineStyle: tickStyle },
        axisTick: { show: true, inside: true, length: 7, lineStyle: tickStyle },
        minorTick: { show: true, splitNumber: 10, length: 4, lineStyle: tickStyle },
        axisLabel: { show: false }, splitLine: { show: false }, minorSplitLine: { show: false },
      });
    }
    for (const pos of ["left", "right"]) {
      yAxis.push({
        type: "value", gridIndex: i, position: pos, min: yRanges[i][0], max: yRanges[i][1],
        splitNumber: 4, minInterval: 0.2, maxInterval: 0.2,
        axisLine: { show: true, onZero: false, lineStyle: tickStyle },
        axisTick: { show: true, inside: true, length: 22, lineStyle: tickStyle },
        minorTick: { show: true, splitNumber: 4, length: 11, lineStyle: tickStyle },
        axisLabel: { show: false }, splitLine: { show: false }, minorSplitLine: { show: false },
      });
    }
    const line = (data: Pt[], color: string, width: number, dotted: boolean, z: number) => ({
      type: "line", xAxisIndex: 2 * i, yAxisIndex: 2 * i, data,
      showSymbol: false, symbol: "none", silent: true, z, clip: true,
      lineStyle: { color, width, type: dotted ? [3, 3] : "solid", cap: "butt", join: "round" },
      emphasis: { disabled: true },
    });
    series.push(line(p.blueCont, C_BLUE_DOT, 1.4, true, 1));
    series.push(line(p.red1Cont, C_RED_DOT, 1.4, true, 1));
    series.push(line(p.greenCont, C_GREEN_DOT, 1.4, true, 1));
    series.push(line(p.red2Cont, C_RED_DOT, 1.4, true, 1));
    p.black.forEach((seg) => series.push(line(seg, C_BLACK, 2.5, false, 2)));
    series.push(line(p.blue, C_BLUE, 1.8, false, 3));
    series.push(line(p.red1, C_RED, 1.8, false, 3));
    series.push(line(p.green, C_GREEN, 1.8, false, 3));
    series.push(line(p.red2, C_RED, 1.8, false, 3));
  });

  return {
    animation: false,
    backgroundColor: "#ffffff",
    grid, xAxis, yAxis, series,
  };
}

export default function App() {
  const ref = useRef<HTMLDivElement | null>(null);
  useEffect(() => {
    if (!ref.current) return;
    const chart = echarts.init(ref.current, null, { renderer: "svg" });
    chart.setOption(buildOption() as any);

    const graphic: any[] = [];
    panels.forEach((_p, i) => {
      const finder = { xAxisIndex: 2 * i, yAxisIndex: 2 * i };
      const [y0, y1] = yRanges[i];
      yTickLabels[i].forEach((v) => {
        const pt = chart.convertToPixel(finder as any, [xRange[0], v]) as number[];
        graphic.push({
          type: "text", x: pt[0] - 9, y: pt[1], scaleX: 2.15, silent: true,
          style: { text: v.toFixed(1), align: "right", verticalAlign: "middle", fontSize: 9, fontFamily: MONO, fill: "#111" },
        });
      });
      xTickLabels.forEach((v) => {
        const pt = chart.convertToPixel(finder as any, [v, y0]) as number[];
        graphic.push({
          type: "text", x: pt[0], y: pt[1] + 9, scaleX: 2.1, silent: true,
          style: { text: String(v), align: "center", verticalAlign: "middle", fontSize: 9, fontFamily: MONO, fill: "#111" },
        });
      });
      const tp = chart.convertToPixel(finder as any, [2.97, y1]) as number[];
      graphic.push({
        type: "text", x: tp[0], y: tp[1] - 10, scaleX: 2.5, silent: true,
        style: { text: panelTitles[i], align: "center", verticalAlign: "middle", fontSize: 11, fontFamily: MONO, fill: "#111" },
      });
      const mp = chart.convertToPixel(finder as any, [xRange[0], (y0 + y1) / 2]) as number[];
      graphic.push({
        type: "text", x: 20, y: mp[1], rotation: Math.PI / 2, scaleX: 0.76, silent: true,
        style: { text: yAxisName, align: "center", verticalAlign: "middle", fontSize: 15, fontFamily: '"Liberation Sans", Arial, sans-serif', fill: "#111" },
      });
    });
    chart.setOption({ graphic } as any);

    return () => chart.dispose();
  }, []);
  return (
    <div
      ref={ref}
      style={{ position: "absolute", left: 0, top: 0, width: 1202, height: 1715, background: "#fff" }}
    />
  );
}
